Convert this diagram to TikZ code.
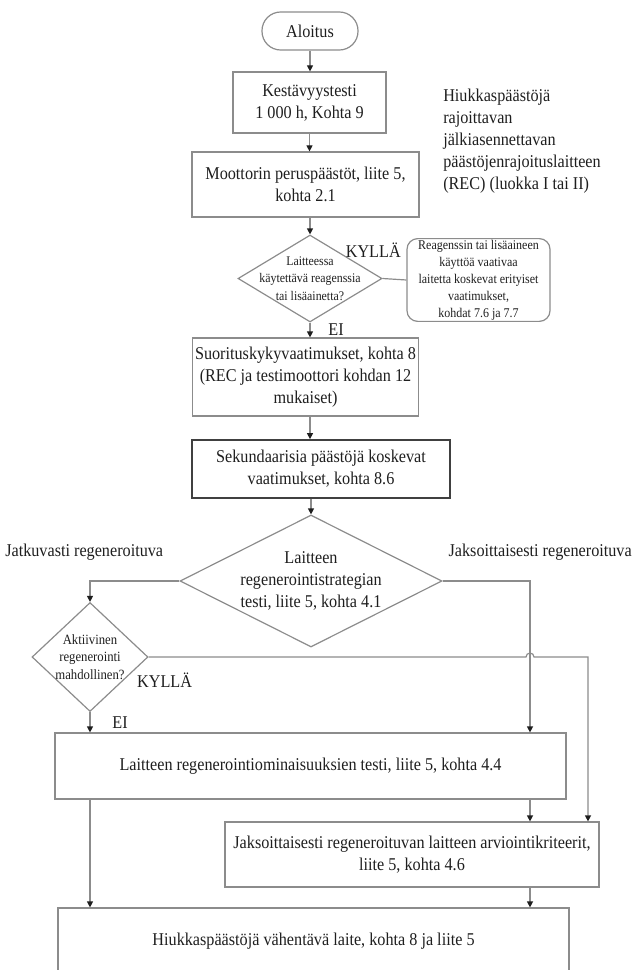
\documentclass[tikz,border=0pt]{standalone}
\usepackage{fontspec}
\setmainfont{Liberation Serif}[FakeStretch=0.9]
\usepackage{tikz}
\usetikzlibrary{shapes.geometric,arrows.meta,calc}
\definecolor{edge}{RGB}{140,140,140}
\definecolor{ink}{RGB}{30,30,30}
\newcommand{\flowtext}{\fontsize{13.5}{16.5}\selectfont}
\newcommand{\diatext}{\fontsize{9.9}{13}\selectfont}
\newcommand{\notetext}{\fontsize{10}{12.75}\selectfont}
\newcommand{\minitext}{\fontsize{10.6}{13}\selectfont}

\begin{document}
\begin{tikzpicture}[
    x=0.75pt, y=-0.75pt,
    every node/.style={text=ink, font=\flowtext},
    startstop/.style={rectangle, rounded corners=14pt, draw=edge, line width=0.9pt,
        align=center, inner sep=2pt},
    process/.style={rectangle, draw=edge, line width=0.9pt, align=center, inner sep=2pt},
    decision/.style={diamond, draw=edge, line width=0.9pt, inner sep=0pt},
    note/.style={rectangle, rounded corners=8pt, draw=edge, line width=0.9pt,
        align=center, inner sep=1pt, font=\notetext},
    arrow/.style={-{Triangle[length=4.5pt, width=4.5pt, color=ink]}, draw=edge, line width=0.9pt},
    line/.style={draw=edge, line width=0.9pt}
]
\useasboundingbox (0,0) rectangle (634,970);
\clip (0,0) rectangle (634,970);

\node[startstop, minimum width=72pt, minimum height=28.5pt] (start) at (310,31) {Aloitus};
\node[process, minimum width=114.75pt, minimum height=45.75pt] (endur) at (309.5,102.5)
    {Kestävyystesti\\1~000 h, Kohta 9};
\node[process, minimum width=170.25pt, minimum height=48.75pt] (base) at (305.5,184.5)
    {Moottorin peruspäästöt, liite 5,\\kohta 2.1};
\node[anchor=north west, align=left, inner sep=0pt] (title) at (443,89)
    {Hiukkaspäästöjä\\rajoittavan\\jälkiasennettavan\\päästöjenrajoituslaitteen\\(REC) (luokka I tai II)};
\node[decision, minimum width=108pt, minimum height=65.25pt,
    label={[align=center, font=\diatext]center:{Laitteessa\\käytettävä reagenssia\\tai lisäainetta?}}]
    (reag) at (310,278.5) {};
\node[note, minimum width=107.25pt, minimum height=61.5pt] (special) at (478.5,280)
    {Reagenssin tai lisäaineen\\käyttöä vaativaa\\laitetta koskevat erityiset\\vaatimukset,\\kohdat 7.6 ja 7.7};
\node[process, minimum width=168.75pt, minimum height=58.5pt] (perf) at (305.5,377)
    {Suorituskykyvaatimukset, kohta 8\\(REC ja testimoottori kohdan 12\\mukaiset)};
\node[process, draw=ink!85, line width=1.3pt, minimum width=193pt, minimum height=43.5pt] (second) at (321,469)
    {Sekundaarisia päästöjä koskevat\\vaatimukset, kohta 8.6};
\node[decision, minimum width=196.5pt, minimum height=99pt,
    label={[align=center]center:{Laitteen\\regenerointistrategian\\testi, liite 5, kohta 4.1}}]
    (strat) at (311,581) {};
\node[anchor=west, inner sep=0pt] (contlabel) at (5,552) {Jatkuvasti regeneroituva};
\node[anchor=east, inner sep=0pt] (perlabel) at (632,552) {Jaksoittaisesti regeneroituva};
\node[decision, minimum width=87pt, minimum height=81.75pt,
    label={[align=center, font=\minitext]center:{Aktiivinen\\regenerointi\\mahdollinen?}}]
    (active) at (90,657) {};
\node[process, minimum width=383.25pt, minimum height=49.5pt] (regen) at (310.5,766)
    {Laitteen regenerointiominaisuuksien testi, liite 5, kohta 4.4};
\node[process, minimum width=280.5pt, minimum height=48.75pt] (period) at (412,854.5)
    {Jaksoittaisesti regeneroituvan laitteen arviointikriteerit,\\liite 5, kohta 4.6};
\node[process, minimum width=383.25pt, minimum height=50.25pt] (device) at (313.5,941.5)
    {Hiukkaspäästöjä vähentävä laite, kohta 8 ja liite 5};

\coordinate (rx) at (530,0);
\coordinate (hx) at (588,0);

\draw[arrow] (start) -- (start |- endur.north);
\draw[arrow] (endur.south) -- (endur.south |- base.north);
\draw[arrow] (base.south -| reag) -- (reag.north);
\draw[line] (reag.east) -- node[pos=0, above=12pt, xshift=-7pt] {KYLLÄ} (special.west);
\draw[arrow] (reag.south) -- node[midway, right=10pt] {EI} (reag.south |- perf.north);
\draw[arrow] (perf.south -| reag) -- (second.north -| reag);
\draw[arrow] (second.south -| strat) -- (strat.north);
\draw[arrow] (strat.west) -| (active.north);
\draw[arrow] (strat.east) -| (rx |- regen.north);
\draw[arrow] (active.east) -- ($(active.east -| rx)+(-4,0)$)
    arc[start angle=180, end angle=360, radius=4]
    -- (active.east -| hx) -- (hx |- period.north);
\node (yes2) at ($(active.east)+(16,23)$) {KYLLÄ};
\draw[arrow] (active.south) -- node[midway, right=13pt] {EI} (active.south |- regen.north);
\draw[arrow] (regen.south -| active) -- (device.north -| active);
\draw[arrow] (regen.south -| rx) -- (period.north -| rx);
\draw[arrow] (period.south -| rx) -- (device.north -| rx);

\end{tikzpicture}
\end{document}
